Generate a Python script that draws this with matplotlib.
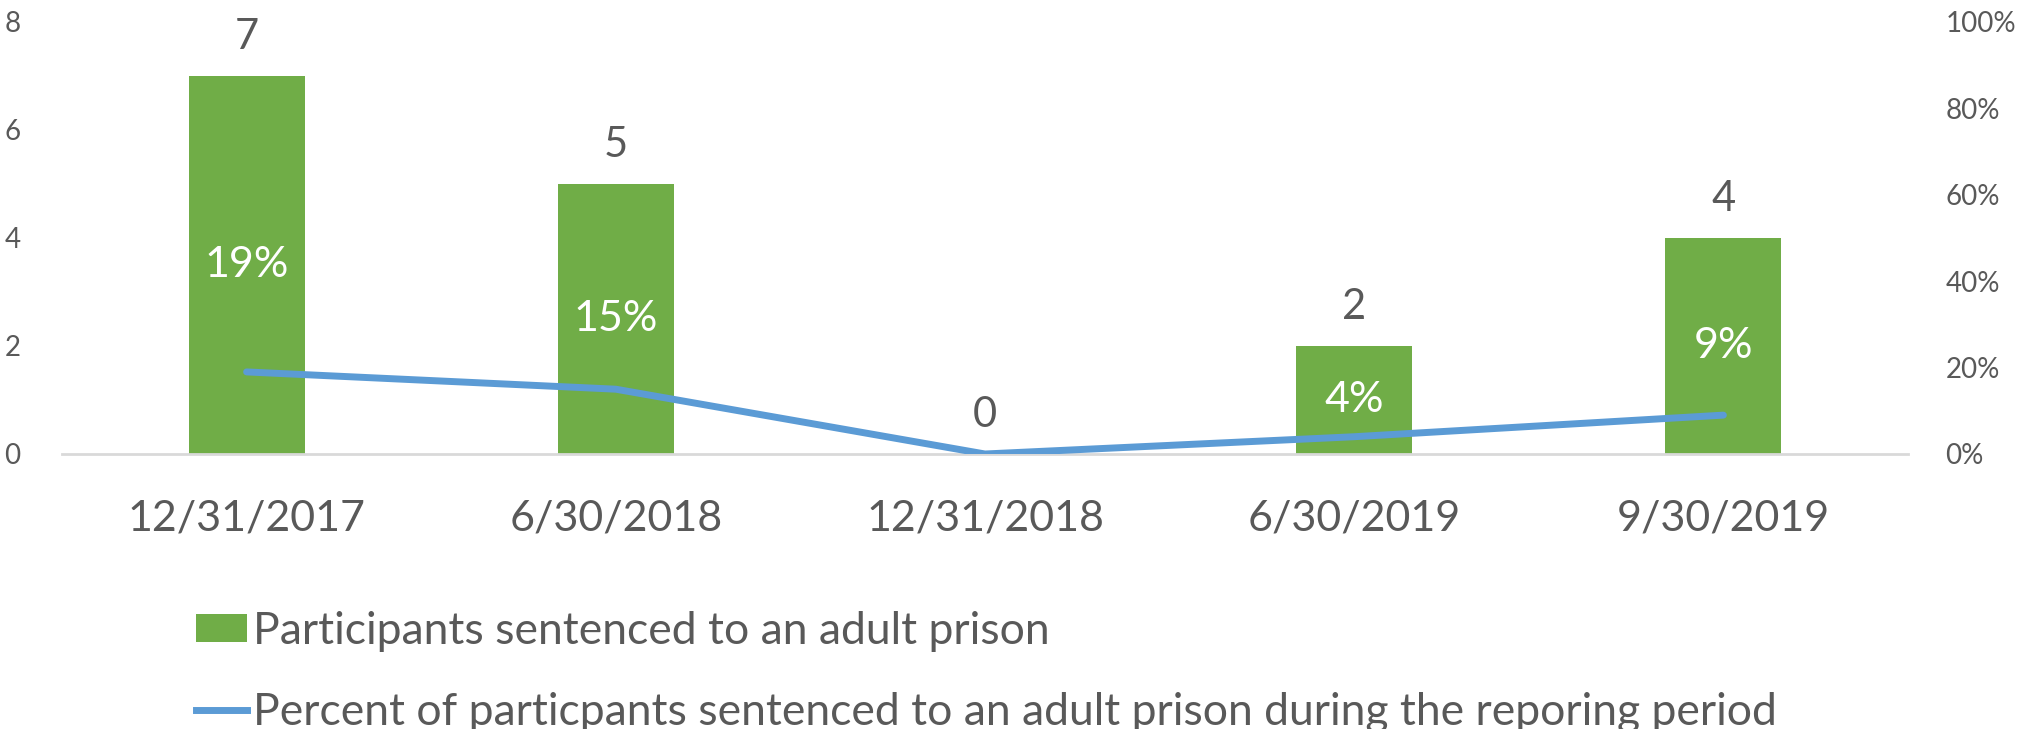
import matplotlib
matplotlib.use("Agg")
import matplotlib.pyplot as plt
from matplotlib.patches import Patch
from matplotlib.lines import Line2D
from matplotlib.ticker import FuncFormatter

plt.rcParams['font.family'] = ['Lato', 'DejaVu Sans']

categories = ["12/31/2017", "6/30/2018", "12/31/2018", "6/30/2019", "9/30/2019"]
participants = [7, 5, 0, 2, 4]
percents = [0.19, 0.15, 0.0, 0.04, 0.09]
bar_label = "Participants sentenced to an adult prison"
line_label = "Percent of particpants sentenced to an adult prison during the reporing period"

GREEN = "#70AD47"
BLUE = "#5B9BD5"
TXT = "#595959"
AX = "#D9D9D9"

W, H = 2017, 729
fig = plt.figure(figsize=(W / 100, H / 100), dpi=100)
ax = fig.add_axes([62 / W, 1 - 454 / H, (1908 - 62) / W, 432 / H])
x = list(range(len(categories)))
ax.bar(x, participants, width=0.314, color=GREEN, zorder=2)
ax.set_xlim(-0.5, len(categories) - 0.5)
ax.set_ylim(0, 8)
ax.set_yticks([0, 2, 4, 6, 8])
ax.set_xticks(x)
ax.set_xticklabels(categories, fontsize=31, color=TXT)
for s in ["top", "right", "left"]:
    ax.spines[s].set_visible(False)
ax.spines["bottom"].set_color(AX)
ax.spines["bottom"].set_linewidth(2)
ax.tick_params(axis="x", length=0, pad=33)
ax.tick_params(axis="y", length=0, labelsize=20, labelcolor=TXT, pad=30)

for xi, v, p in zip(x, participants, percents):
    ax.annotate(str(v), (xi, v), xytext=(0, 28), textcoords="offset points",
                ha="center", va="center", fontsize=30, color=TXT)
    if v > 0:
        ax.text(xi, v / 2, f"{round(p * 100)}%", ha="center", va="center",
                fontsize=31, color="white", zorder=5)

ax2 = ax.twinx()
ax2.plot(x, percents, color=BLUE, linewidth=5, solid_capstyle="round", zorder=3)
ax2.set_ylim(0, 1)
ax2.set_yticks([0, 0.2, 0.4, 0.6, 0.8, 1.0])
ax2.yaxis.set_major_formatter(FuncFormatter(lambda v, _: f"{round(v * 100)}%"))
for s in ["top", "right", "left", "bottom"]:
    ax2.spines[s].set_visible(False)
ax2.tick_params(axis="y", length=0, labelsize=20, labelcolor=TXT, pad=27)

handles = [Patch(facecolor=GREEN, edgecolor="none"),
           Line2D([0], [0], color=BLUE, linewidth=5)]
leg = fig.legend(handles, [bar_label, line_label], loc="upper left",
                 bbox_to_anchor=(196 / W, 1 - 611 / H), frameon=False,
                 fontsize=32, labelcolor=TXT, handlelength=1.15,
                 handleheight=0.58, handletextpad=0.13, labelspacing=0.9,
                 borderpad=0, borderaxespad=0)

fig.savefig("out.png", dpi=100)
